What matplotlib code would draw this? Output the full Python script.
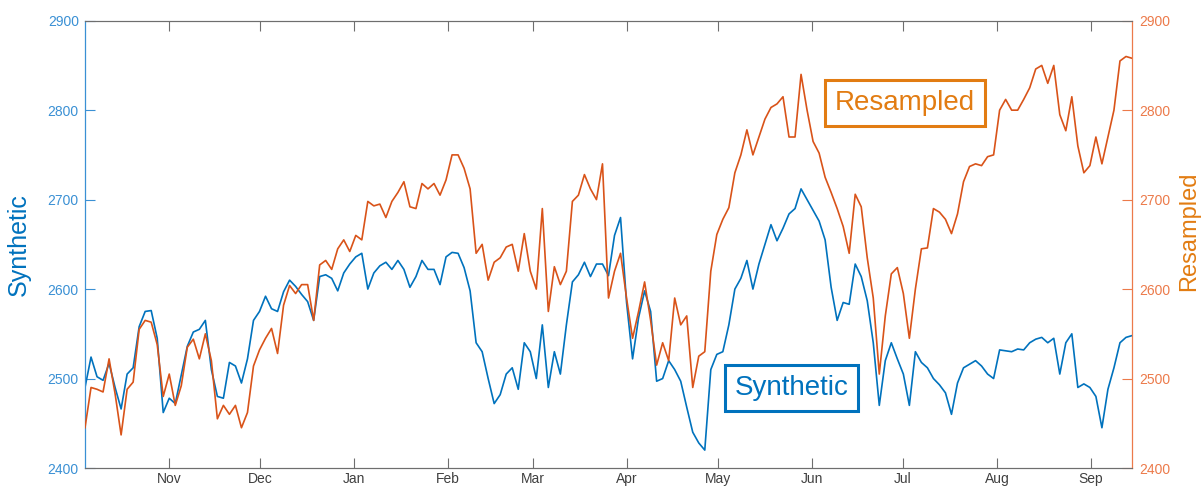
import numpy as np
import pandas as pd
import matplotlib
matplotlib.use("Agg")
import matplotlib.pyplot as plt
import matplotlib.dates as mdates

plt.rcParams['font.family'] = ['Liberation Sans', 'DejaVu Sans']

# ---------------- data ----------------
start_date = '2017-10-04 05:00'
end_date = '2018-09-14 12:00'

synthetic = [
    2490, 2524, 2502, 2498, 2517, 2490, 2466, 2505, 2512, 2558, 2575, 2576, 2545, 2462, 2478,
    2472, 2504, 2536, 2552, 2555, 2565, 2510, 2480, 2478, 2518, 2514, 2495, 2522, 2565, 2575,
    2592, 2578, 2575, 2597, 2610, 2603, 2594, 2586, 2565, 2614, 2616, 2612, 2598, 2618, 2628,
    2636, 2640, 2600, 2618, 2626, 2630, 2622, 2632, 2622, 2602, 2614, 2632, 2622,
    2622, 2605, 2636, 2641, 2640, 2624, 2598, 2540, 2530, 2500, 2472, 2482, 2505, 2512, 2488,
    2540, 2530, 2500, 2560, 2490, 2530, 2505, 2560, 2608, 2616, 2630, 2614, 2628,
    2628, 2615, 2660, 2680, 2585, 2522, 2568, 2598, 2575, 2497, 2500, 2520, 2510, 2497, 2468,
    2440, 2428, 2420, 2510, 2527, 2530, 2560, 2600, 2612, 2632, 2600, 2628, 2650, 2672,
    2654, 2668, 2684, 2690, 2712, 2700, 2688, 2676, 2655, 2602, 2565, 2585, 2583, 2628, 2614,
    2587, 2540, 2470, 2520, 2540, 2522, 2505, 2470, 2530, 2518, 2512, 2500, 2493,
    2484, 2460, 2495, 2512, 2516, 2520, 2514, 2505, 2500, 2532, 2531, 2530, 2533, 2532, 2540,
    2544, 2546, 2540, 2545, 2505, 2540, 2550, 2490, 2494, 2490, 2480, 2445, 2488, 2512, 2540,
    2546, 2548,
]

resampled = [
    2445, 2490, 2488, 2485, 2522, 2483, 2437, 2488, 2496, 2555, 2565, 2563, 2538, 2480, 2505,
    2470, 2492, 2535, 2544, 2522, 2550, 2520, 2455, 2470, 2460, 2470, 2445, 2462, 2514, 2532,
    2545, 2556, 2528, 2582, 2604, 2595, 2605, 2605, 2565, 2627, 2632, 2622, 2645, 2655, 2642,
    2660, 2655, 2698, 2693, 2695, 2680, 2698, 2708, 2720, 2692, 2690, 2718, 2712,
    2718, 2705, 2722, 2750, 2750, 2735, 2712, 2640, 2650, 2610, 2630, 2635, 2647, 2650, 2620,
    2662, 2620, 2600, 2690, 2575, 2625, 2605, 2620, 2698, 2705, 2728, 2712, 2700,
    2740, 2590, 2620, 2640, 2590, 2545, 2575, 2608, 2565, 2515, 2540, 2520, 2590, 2560, 2570,
    2490, 2525, 2530, 2620, 2661, 2678, 2691, 2730, 2750, 2778, 2750, 2770, 2790, 2803,
    2807, 2815, 2770, 2770, 2840, 2800, 2765, 2752, 2725, 2708, 2690, 2670, 2640, 2706, 2692,
    2635, 2590, 2505, 2570, 2617, 2624, 2595, 2545, 2600, 2645, 2646, 2690, 2686,
    2678, 2662, 2684, 2720, 2737, 2740, 2738, 2748, 2750, 2800, 2812, 2800, 2800, 2812, 2825,
    2846, 2850, 2830, 2850, 2795, 2777, 2815, 2760, 2730, 2738, 2770, 2740, 2770, 2800, 2855,
    2860, 2858,
]

y_ticks = [2400, 2500, 2600, 2700, 2800, 2900]
left_label = 'Synthetic'
right_label = 'Resampled'

# ---------------- styling ----------------
BLUE = '#0072BD'
BLUE_AX = '#3A90D4'
ORANGE = '#D95319'
ORANGE_AX = '#EC7A4A'
ORANGE_TXT = '#E27C12'
GRAY = '#6E6E6E'

dates = pd.date_range(start_date, end_date, periods=len(synthetic))

fig = plt.figure(figsize=(12.03, 4.88), dpi=100)
ax = fig.add_axes([0.07066, 0.04098, 0.87032, 0.9166])
ax2 = ax.twinx()

ax.plot(dates, synthetic, color=BLUE, lw=1.2)
ax2.plot(dates, resampled, color=ORANGE, lw=1.2)

for a in (ax, ax2):
    a.set_ylim(2400, 2900)
    a.set_yticks(y_ticks)
    a.set_xlim(dates[0], dates[-1])

ax.xaxis.set_major_locator(mdates.MonthLocator())
ax.xaxis.set_major_formatter(mdates.DateFormatter('%b'))

ax.tick_params(axis='x', direction='in', length=7.5, width=0.8, color=GRAY,
               top=True, bottom=True, labelsize=10, labelcolor='#404040', pad=3)
ax.tick_params(axis='y', direction='in', length=7.5, width=0.8, color=BLUE_AX,
               labelsize=10, labelcolor=BLUE_AX, pad=4.5, left=True, right=False)
ax2.tick_params(axis='y', direction='in', length=7.5, width=0.8, color=ORANGE_AX,
                labelsize=10, labelcolor=ORANGE_AX, pad=5.5, right=True, left=False)

for a in (ax, ax2):
    a.spines['top'].set_color(GRAY)
    a.spines['bottom'].set_color(GRAY)
    a.spines['top'].set_linewidth(0.8)
    a.spines['bottom'].set_linewidth(0.8)
ax.spines['left'].set_color(BLUE_AX)
ax2.spines['left'].set_visible(False)
ax.spines['right'].set_visible(False)
ax2.spines['right'].set_color(ORANGE_AX)
ax.spines['left'].set_linewidth(0.9)
ax2.spines['right'].set_linewidth(0.9)

ax.set_ylabel(left_label, fontsize=18, color=BLUE)
ax.yaxis.set_label_coords(-0.052, 0.5)
ax2.set_ylabel(right_label, fontsize=17, color=ORANGE_TXT)
ax2.yaxis.set_label_coords(1.0445, 0.53)

ax2.text(0.783, 0.816, 'Resampled', transform=ax2.transAxes, fontsize=20,
         color=ORANGE_TXT, ha='center', va='center', zorder=10,
         bbox=dict(boxstyle='square,pad=0.35', fc='white', ec=ORANGE_TXT, lw=2.2))
ax2.text(0.675, 0.179, 'Synthetic', transform=ax2.transAxes, fontsize=20,
         color=BLUE, ha='center', va='center', zorder=10,
         bbox=dict(boxstyle='square,pad=0.35', fc='white', ec=BLUE, lw=2.2))

fig.savefig('out.png', dpi=100)
